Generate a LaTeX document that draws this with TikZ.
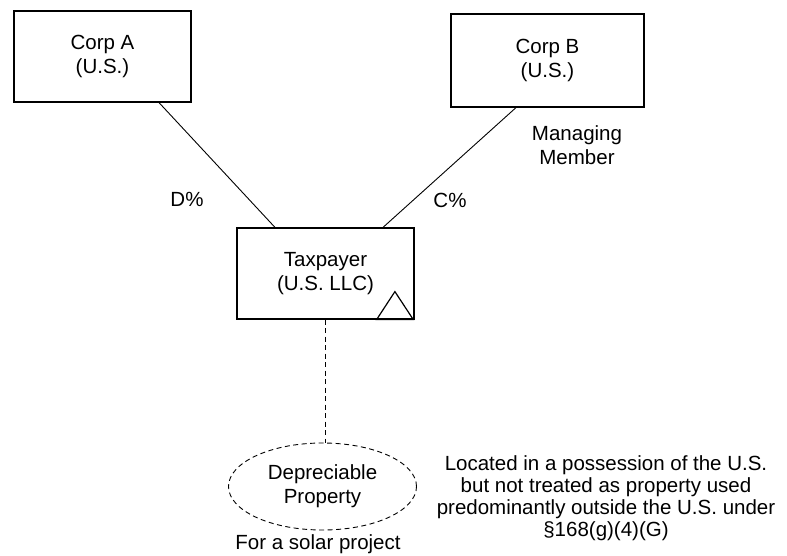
\documentclass[tikz,border=0pt]{standalone}
\usepackage{fontspec}
\setmainfont{Liberation Sans}
\usetikzlibrary{shapes.geometric}
\begin{document}
\begin{tikzpicture}[x=1pt,y=-1pt,
  every node/.style={font=\fontsize{20.5}{24}\selectfont, align=center, inner sep=0pt},
  entity/.style={draw, line width=1.2pt, minimum width=#1},
  link/.style={line width=0.9pt},
  dashlink/.style={line width=0.9pt, dash pattern=on 5pt off 3.5pt},
  prop/.style={draw, ellipse, line width=0.9pt, dash pattern=on 5pt off 3.5pt, minimum width=188pt, minimum height=87pt},
  lbl/.style={}]
\useasboundingbox (0,0) rectangle (787,556);
\node[entity=177pt, minimum height=91pt] (A) at (102.5,56.5) {Corp A\\(U.S.)};
\node[entity=193pt, minimum height=93pt] (B) at (547.5,60.5) {Corp B\\(U.S.)};
\node[entity=177pt, minimum height=91pt] (T) at (325.5,273.5) {Taxpayer\\(U.S. LLC)};
\node[prop] (E) at (322.5,486.5) {Depreciable\\Property};
\node[lbl] (Mgr) at (577,145) {Managing\\Member};
\node[lbl] (D) at (187,199) {D\%};
\node[lbl] (C) at (450,200) {C\%};
\node[lbl] (Solar) at (318,544) {For a solar project};
\node[lbl, font=\fontsize{20.5}{22}\selectfont] (Note) at (606,498) {Located in a possession of the U.S.\\but not treated as property used\\predominantly outside the U.S. under\\\S168(g)(4)(G)};
\draw[link] ([xshift=56.5pt]A.south) -- ([xshift=-50.5pt]T.north);
\draw[link] ([xshift=-31.5pt]B.south) -- ([xshift=57.5pt]T.north);
\draw[dashlink] (T.south) -- (T.south |- E.north);
\draw[line width=1.2pt, line join=miter] ([shift={(-38,0)}]T.south east) -- ([shift={(-19.7,-28)}]T.south east) -- ([shift={(-1.3,0)}]T.south east) -- cycle;
\end{tikzpicture}
\end{document}
